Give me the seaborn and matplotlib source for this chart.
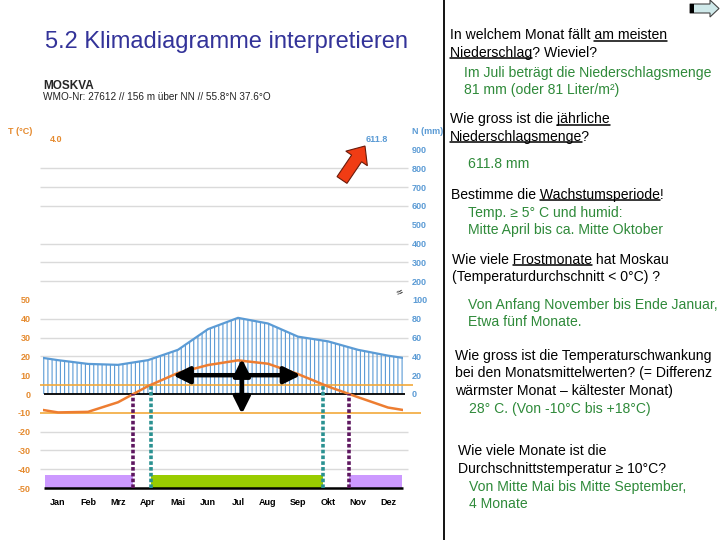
import numpy as np
import pandas as pd
import matplotlib
matplotlib.use("Agg")
import matplotlib.pyplot as plt
from matplotlib.patches import FancyArrow, Rectangle
import seaborn as sns

# ---------------- data ----------------
months = ['Jan', 'Feb', 'Mrz', 'Apr', 'Mai', 'Jun', 'Jul', 'Aug', 'Sep', 'Okt', 'Nov', 'Dez']
temp = [-9.8, -9.5, -4.4, 4.2, 11.2, 15.4, 17.9, 16.1, 10.6, 4.0, -1.7, -7.2]
precip = [36, 32, 31, 36, 47, 69, 81, 75, 61, 56, 47, 40.8]
t_ticks = [50, 40, 30, 20, 10, 0, -10, -20, -30, -40, -50]
n_ticks = [0, 20, 40, 60, 80, 100, 200, 300, 400, 500, 600, 700, 800, 900]
grid_t = [40, 30, 20, -20, -30, -40]
grid_n = [200, 300, 400, 600, 700, 800]
station = "MOSKVA"
station_info = "WMO-Nr: 27612 // 156 m über NN // 55.8°N 37.6°O"
mean_temp_label = "4.0"
sum_precip_label = "611.8"

title = "5.2 Klimadiagramme interpretieren"
# (text, underline?) segments, colour flag, x, baseline y
qa_lines = [
    ([("In welchem Monat fällt ", False), ("am meisten", True)], "q", 450, 39),
    ([("Niederschlag", True), ("? Wieviel?", False)], "q", 450, 56.5),
    ([("Im Juli beträgt die Niederschlagsmenge", False)], "a", 464, 76.5),
    ([("81 mm (oder 81 Liter/m²)", False)], "a", 464, 94),
    ([("Wie gross ist die ", False), ("jährliche", True)], "q", 450, 123.5),
    ([("Niederschlagsmenge", True), ("?", False)], "q", 450, 140.5),
    ([("611.8 mm", False)], "a", 468, 167.5),
    ([("Bestimme die ", False), ("Wachstumsperiode", True), ("!", False)], "q", 451, 198.5),
    ([("Temp. ≥ 5° C und humid:", False)], "a", 468, 216.5),
    ([("Mitte April bis ca. Mitte Oktober", False)], "a", 468, 234),
    ([("Wie viele ", False), ("Frostmonate", True), (" hat Moskau", False)], "q", 452, 263.5),
    ([("(Temperaturdurchschnitt < 0°C) ?", False)], "q", 452, 281),
    ([("Von Anfang November bis Ende Januar,", False)], "a", 468, 308.5),
    ([("Etwa fünf Monate.", False)], "a", 468, 326.5),
    ([("Wie gross ist die Temperaturschwankung", False)], "q", 455, 360),
    ([("bei den Monatsmittelwerten? (= Differenz", False)], "q", 455, 377.5),
    ([("wärmster Monat – kältester Monat)", False)], "q", 455, 395),
    ([("28° C. (Von -10°C bis +18°C)", False)], "a", 469, 413.5),
    ([("Wie viele Monate ist die", False)], "q", 458, 455),
    ([("Durchschnittstemperatur ≥ 10°C?", False)], "q", 458, 472.5),
    ([("Von Mitte Mai bis Mitte September,", False)], "a", 469, 491),
    ([("4 Monate", False)], "a", 469, 508.5),
]

# ---------------- style ----------------
sns.set_style("white")
plt.rcParams['font.family'] = ['Liberation Sans', 'DejaVu Sans']
plt.rcParams['hatch.linewidth'] = 0.8

C_T = '#ed7d31'
C_TL = '#e58a2e'
C_N = '#5b9bd5'
C_REF = '#f2a93b'
C_PURPLE = '#5e1760'
C_TEAL = '#2a9191'
C_FROST = '#cc99ff'
C_GROW = '#99cc00'
C_GREEN = '#2f8a3a'

fig = plt.figure(figsize=(7.2, 5.4), dpi=100)
ax = fig.add_axes([43 / 720, (540 - 488) / 540, 360 / 720, (488 - 140.2) / 540])
ax.set_xlim(0, 12)
ax.set_ylim(-50, 135)

pos = np.arange(12) + 0.5
# wrap the year so that the curves run to the edges of the axis
x_ext = np.concatenate([[pos[0] - 1], pos, [pos[-1] + 1]])
t_ext = np.concatenate([[temp[-1]], temp, [temp[0]]])
p_ext = np.concatenate([[precip[-1]], precip, [precip[0]]]) / 2.0  # 20 mm = 10 °C
df = pd.DataFrame({"x": x_ext, "T": t_ext, "P": p_ext})


def crossing(x, y, level, rising):
    for i in range(len(x) - 1):
        a, b = y[i], y[i + 1]
        if rising and a < level <= b or (not rising) and a >= level > b:
            return x[i] + (level - a) / (b - a) * (x[i + 1] - x[i])
    return None


frost_end = crossing(pos, temp, 0, True)
frost_start = crossing(pos, temp, 0, False)
grow_start = crossing(pos, temp, 5, True)
grow_end = crossing(pos, temp, 5, False)
warm_start = crossing(pos, temp, 10, True)
warm_end = crossing(pos, temp, 10, False)

# grid
gl = list(grid_t) + [50 + (n - 100) / 10 for n in grid_n]
ax.hlines(gl, -0.1, 12.17, colors='#dadada', lw=1, clip_on=False, zorder=0)

# humid hatching + curves
ax.fill_between(df["x"], 0, df["P"], facecolor='none', edgecolor=C_N,
                hatch='||||', lw=0, zorder=1)
sns.lineplot(data=df, x="x", y="P", ax=ax, color=C_N, lw=1.6, zorder=3)
sns.lineplot(data=df, x="x", y="T", ax=ax, color=C_T, lw=1.8, zorder=4)

# reference lines
ax.hlines(5, -0.1, 12.33, colors=C_REF, lw=1.2, clip_on=False, zorder=2)
ax.hlines(-10, -0.1, 12.6, colors=C_REF, lw=1.2, clip_on=False, zorder=2)
ax.hlines(0, 0.03, 12.05, colors='black', lw=1.3, clip_on=False, zorder=2)
ax.hlines(-50, 0.03, 12.0, colors='black', lw=1.8, clip_on=False, zorder=2)

# period bars
ax.fill_between([0.05, frost_end], -50, -43, color=C_FROST, lw=0, zorder=1)
ax.fill_between([frost_start, 11.95], -50, -43, color=C_FROST, lw=0, zorder=1)
ax.fill_between([grow_start, grow_end], -50, -43, color=C_GROW, lw=0, zorder=1)

# dashed markers
for xv, top, c in [(frost_end, 0, C_PURPLE), (frost_start, 0, C_PURPLE),
                   (grow_start, 5, C_TEAL), (grow_end, 5, C_TEAL)]:
    ax.plot([xv, xv], [-50, top], color=c, lw=2.6, ls=(0, (1.0, 0.6)), zorder=5)

# temperature range arrows
arrow_kw = dict(arrowstyle='<|-|>', lw=3.2, color='black', mutation_scale=25,
                shrinkA=0, shrinkB=0)
ax.annotate('', xy=(warm_start, 10), xytext=(warm_end, 10), arrowprops=arrow_kw, zorder=6)
xm = pos[int(np.argmax(temp))] + 0.13
ax.annotate('', xy=(xm, max(temp) + 0.8), xytext=(xm, min(temp) - 0.8),
            arrowprops=arrow_kw, zorder=6)

ax.text(11.9, 54, '≈', rotation=25, fontsize=8, ha='center', va='center', color='black')

# axes ticks
for s in ax.spines.values():
    s.set_visible(False)
ax.set_xticks(pos, months)
ax.set_yticks(t_ticks, [str(v) for v in t_ticks])
ax.tick_params(axis='x', length=0, pad=7, labelsize=6.5, labelcolor='black')
ax.tick_params(axis='y', length=0, pad=9, labelsize=6.5, labelcolor=C_TL)
for lab in ax.get_xticklabels() + ax.get_yticklabels():
    lab.set_fontweight('bold')
ax.set_xlabel('')
ax.set_ylabel('')

ax2 = ax.twinx()
ax2.set_ylim(ax.get_ylim())
npos = [n / 2 if n <= 100 else 50 + (n - 100) / 10 for n in n_ticks]
ax2.set_yticks(npos, [str(n) for n in n_ticks])
ax2.tick_params(axis='y', length=0, pad=6.5, labelsize=6.5, labelcolor=C_N)
for lab in ax2.get_yticklabels():
    lab.set_fontweight('bold')
for s in ax2.spines.values():
    s.set_visible(False)
ax2.grid(False)

# ---------------- overlay (slide) ----------------
ov = fig.add_axes([0, 0, 1, 1], zorder=20)
ov.set_xlim(0, 720)
ov.set_ylim(540, 0)
ov.axis('off')

ov.text(45, 42, title, fontsize=17, color='#333399', va='center', ha='left')
ov.text(43, 86, station, fontsize=8.5, fontweight='bold', va='center', ha='left')
ov.text(43, 97.5, station_info, fontsize=7.2, va='center', ha='left', color='#222222')
ov.text(8, 131, "T (°C)", fontsize=6.5, fontweight='bold', color=C_TL, va='center')
ov.text(50, 140, mean_temp_label, fontsize=6.5, fontweight='bold', color=C_TL, va='center')
ov.text(366, 140, sum_precip_label, fontsize=6.5, fontweight='bold', color=C_N, va='center')
ov.text(412, 131, "N (mm)", fontsize=6.5, fontweight='bold', color=C_N, va='center')

# red arrow pointing to yearly precipitation
ov.add_patch(FancyArrow(342, 180, 23, -34, width=12, head_width=26, head_length=15,
                        length_includes_head=True, facecolor='#f03c14',
                        edgecolor='#6a1a0a', lw=0.8))
# navigation icon
ov.add_patch(FancyArrow(690, 8.5, 29, 0, width=9, head_width=17, head_length=9,
                        length_includes_head=True, facecolor='#cfe9ea',
                        edgecolor='#444444', lw=0.8))
ov.add_patch(Rectangle((689.5, 4), 4.5, 9, facecolor='black', edgecolor='none', zorder=5))

# separator
ov.plot([443.5, 443.5], [0, 540], color='black', lw=1.3)

renderer = fig.canvas.get_renderer()
FS = 10.1


def text_width(s):
    t = ov.text(0, 0, s, fontsize=FS)
    w = t.get_window_extent(renderer).width
    t.remove()
    return w


for parts, kind, x0, yb in qa_lines:
    col = 'black' if kind == 'q' else C_GREEN
    full = ''.join(p for p, _ in parts)
    ov.text(x0, yb, full, fontsize=FS, color=col, va='baseline', ha='left')
    prefix = ''
    for seg, ul in parts:
        if ul:
            w_end = text_width(prefix + seg)
            w_seg = text_width(seg)
            ov.plot([x0 + w_end - w_seg, x0 + w_end], [yb + 1.6, yb + 1.6],
                    color=col, lw=1.1)
        prefix += seg

fig.savefig("out.png", dpi=100)
